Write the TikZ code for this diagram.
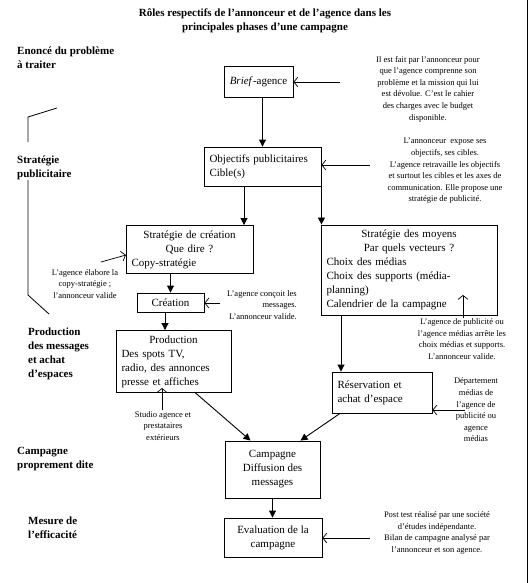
\documentclass[tikz,border=0pt]{standalone}
\usepackage{fontspec}
\setmainfont{Liberation Serif}
\usetikzlibrary{arrows.meta}

\begin{document}
\begin{tikzpicture}[x=1pt,y=-1pt,
    box/.style={draw, line width=0.9pt, inner sep=5pt, font=\fontsize{11}{14}\selectfont},
    note/.style={align=center, inner sep=1pt, font=\fontsize{8.5}{11.6}\selectfont},
    phase/.style={anchor=west, align=left, inner sep=0pt, font=\bfseries\fontsize{11}{14}\selectfont},
    flow/.style={line width=0.9pt, -{Triangle[length=7pt,width=7pt]}},
    hint/.style={line width=0.7pt, -{Straight Barb[length=4pt,width=10pt]}}]
    \useasboundingbox (0,0) rectangle (529,583);

    \draw[line width=0.9pt] (527,0) -- (527,583);

    \node[font=\bfseries\fontsize{11}{14}\selectfont, align=center] (titre) at (265,21)
        {Rôles respectifs de l’annonceur et de l’agence dans les\\ principales phases d’une campagne};

    % phases
    \node[phase] (p1) at (17,58) {Enoncé du problème\\ à traiter};
    \node[phase] (p2) at (17,168) {Stratégie\\ publicitaire};
    \node[phase] (p3) at (28,354) {Production\\ des messages\\ et achat\\ d’espaces};
    \node[phase] (p4) at (17,459) {Campagne\\ proprement dite};
    \node[phase] (p5) at (28,528) {Mesure de\\ l’efficacité};

    % accolade
    \draw[line width=0.8pt] (57,108) -- (28,117) -- (28,142);
    \draw[line width=0.8pt] (28,180) -- (28,295) -- (49,314);

    % cases
    \node[box, minimum width=69pt, minimum height=31pt] (brief) at (258.5,82) {\textit{Brief}-agence};
    \node[box, minimum width=117pt, minimum height=39pt, text width=106pt, align=left] (obj) at (262.5,166.5)
        {Objectifs publicitaires\\ Cible(s)};
    \node[box, minimum width=127pt, minimum height=48pt, text width=116pt, align=left] (crea) at (189.5,249.5)
        {\makebox[\linewidth]{Stratégie de création}\\ \makebox[\linewidth]{Que dire ?}\\ Copy-stratégie};
    \node[box, minimum width=176pt, minimum height=88pt, text width=165pt, align=left] (moy) at (409,270)
        {\makebox[\linewidth]{Stratégie des moyens}\\ \makebox[\linewidth]{Par quels vecteurs ?}\\
         Choix des médias\\ Choix des supports (média-\\ planning)\\ Calendrier de la campagne};
    \node[box, minimum width=67pt, minimum height=19pt, inner sep=2pt] (creation) at (170.5,302.5) {Création};
    \node[box, minimum width=115pt, minimum height=61pt, text width=104pt, align=left] (prod) at (173.5,361.5)
        {\makebox[\linewidth]{Production}\\ Des spots TV,\\ radio, des annonces\\ presse et affiches};
    \node[box, minimum width=100pt, minimum height=41pt, text width=89pt, align=left] (resa) at (382,392.5)
        {Réservation et\\ achat d’espace};
    \node[box, minimum width=95pt, minimum height=57pt, align=center] (camp) at (272.5,469.5)
        {Campagne\\ Diffusion des\\ messages};
    \node[box, minimum width=98pt, minimum height=39pt, align=center] (eval) at (273,537.5)
        {Evaluation de la\\ campagne};

    % commentaires
    \node[note] (nbrief) at (428,89) {Il est fait par l’annonceur pour\\ que l’agence comprenne son\\
        problème et la mission qui lui\\ est dévolue. C’est le cahier\\ des charges avec le budget\\ disponible.};
    \node[note] (nobj) at (445,171) {L’annonceur\ \ expose ses\\ objectifs, ses cibles.\\
        L’agence retravaille les objectifs\\ et surtout les cibles et les axes de\\
        communication. Elle propose une\\ stratégie de publicité.};
    \node[note, fill=white] (ncrea) at (85,284) {L’agence élabore la\\ copy-stratégie ;\\ l’annonceur valide};
    \node[note, align=right] (ncreation) at (262,305) {L’agence conçoit les\\ messages.\\ L’annonceur valide.};
    \node[note] (nmoy) at (462,339) {L’agence de publicité ou\\ l’agence médias arrête les\\
        choix médias et supports.\\ L’annonceur valide.};
    \node[note] (nprod) at (163,426) {Studio agence et\\ prestataires\\ extérieurs};
    \node[note] (nresa) at (476,410) {Département\\ médias de\\ l’agence de\\ publicité ou\\ agence\\ médias};
    \node[note] (neval) at (437,533) {Post test réalisé par une société\\ d’études indépendante.\\
        Bilan de campagne analysé par\\ l’annonceur et son agence.};

    % points de depart des fleches
    \coordinate (b0) at (340,82);
    \coordinate (o0) at (370,165);
    \coordinate (c0) at (101,262);
    \coordinate (c1) at (126,255);
    \coordinate (k0) at (220,303);
    \coordinate (m0) at (463,318);
    \coordinate (m1) at (463,295);
    \coordinate (s0) at (162,410);
    \coordinate (s1) at (162,388);
    \coordinate (r0) at (465,410);
    \coordinate (e0) at (370,538);
    \coordinate (x1) at (244,0);
    \coordinate (x2) at (165,0);
    \coordinate (x3) at (341,0);

    % fleches
    \draw[flow] (brief.south -| obj.north) -- (obj.north);
    \draw[flow] (obj.south -| x1) -- (crea.north -| x1);
    \draw[flow] (obj.south east) -- (obj.south east |- moy.north);
    \draw[flow] (crea.south -| creation.north) -- (creation.north);
    \draw[flow] (creation.south -| x2) -- (prod.north -| x2);
    \draw[flow] (moy.south -| x3) -- (resa.north -| x3);
    \draw[flow] ([xshift=22pt]prod.south) -- ([xshift=-22pt]camp.north);
    \draw[flow] ([xshift=-42pt]resa.south) -- ([xshift=28pt]camp.north);
    \draw[flow] (camp.south) -- (camp.south |- eval.north);

    \draw[hint] (b0) -- (brief.east);
    \draw[hint] (o0) -- (o0 -| obj.east);
    \draw[hint] (c0) -- (c1);
    \draw[hint] (k0) -- (k0 -| creation.east);
    \draw[hint] (m0) -- (m1);
    \draw[hint] (s0) -- (s1);
    \draw[hint] (r0) -- (r0 -| resa.east);
    \draw[hint] (e0) -- (e0 -| eval.east);
\end{tikzpicture}
\end{document}
